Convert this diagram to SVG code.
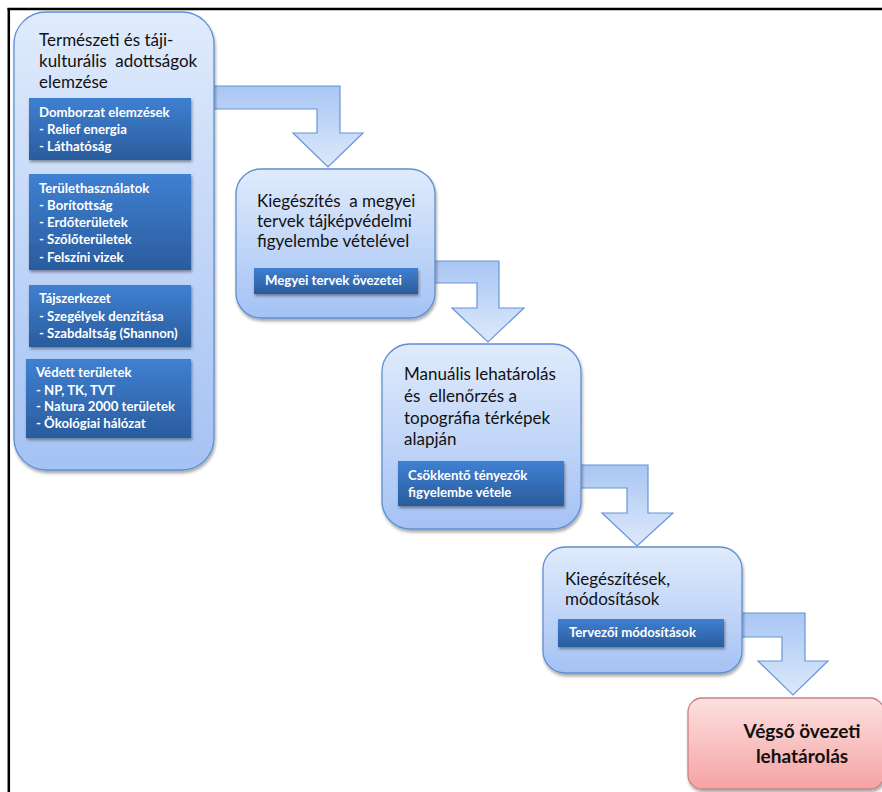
<svg xmlns="http://www.w3.org/2000/svg" width="882" height="792" viewBox="0 0 882 792">
<defs>
<linearGradient id="gBox" x1="0" y1="0" x2="0" y2="1">
<stop offset="0" stop-color="#e0ebfc"/><stop offset="1" stop-color="#a4c2f4"/>
</linearGradient>
<linearGradient id="gArrow" x1="0" y1="0" x2="0" y2="1">
<stop offset="0" stop-color="#a9c6f3"/><stop offset="1" stop-color="#dde9fb"/>
</linearGradient>
<linearGradient id="gDark" x1="0" y1="0" x2="0" y2="1">
<stop offset="0" stop-color="#3f80d2"/><stop offset="1" stop-color="#2a5c9d"/>
</linearGradient>
<linearGradient id="gRed" x1="0" y1="0" x2="0" y2="1">
<stop offset="0" stop-color="#fde0e0"/><stop offset="1" stop-color="#f5a3a3"/>
</linearGradient>
<filter id="sh" x="-10%" y="-10%" width="125%" height="130%">
<feDropShadow dx="1" dy="2.5" stdDeviation="1.8" flood-color="#000" flood-opacity="0.35"/>
</filter>
<filter id="shs" x="-10%" y="-10%" width="125%" height="140%">
<feDropShadow dx="1" dy="2" stdDeviation="1.5" flood-color="#000" flood-opacity="0.4"/>
</filter>
</defs>
<style>
text{white-space:pre}
.box{fill:url(#gBox);stroke:#5f8fd3;stroke-width:1.3}
.arr{fill:url(#gArrow);stroke:#6795d6;stroke-width:1.2}
.dark{fill:url(#gDark)}
.t{font-family:Lato,"Liberation Sans",sans-serif;font-size:17px;fill:#111}
.w{font-family:Lato,"Liberation Sans",sans-serif;font-size:13.2px;font-weight:bold;fill:#fff}
.r{font-family:Lato,"Liberation Sans",sans-serif;font-size:19px;font-weight:bold;fill:#111}
</style>
<rect width="882" height="792" fill="#fff"/>
<g id="frame" stroke="#000" fill="none">
<line x1="7.5" y1="9" x2="882" y2="9" stroke-width="2.5"/>
<line x1="8.8" y1="8" x2="8.8" y2="792" stroke-width="2.5"/>
</g>
<g id="connectors">
<path class="arr" d="M205 86 H340 V133 H363 L328 167 L293 133 H317 V109 H205 Z"/>
<path class="arr" d="M425 261 H499 V308 H524 L488 342 L452 308 H477 V283 H425 Z"/>
<path class="arr" d="M570 465 H648 V513 H673 L637 546 L602 513 H627 V488 H570 Z"/>
<path class="arr" d="M730 613 H805 V661 H828 L793 695 L758 661 H782 V637 H730 Z"/>
</g>
<g id="n1">
<rect class="box" x="14" y="12" width="200" height="458" rx="32" filter="url(#sh)"/>
<text class="t" x="39" y="46">Természeti és táji-</text>
<text class="t" x="39" y="67">kulturális  adottságok</text>
<text class="t" x="39" y="88">elemzése</text>
<rect class="dark" x="29" y="98" width="162" height="62" filter="url(#shs)"/>
<text class="w" x="39" y="117">Domborzat elemzések</text>
<text class="w" x="39" y="134">- Relief energia</text>
<text class="w" x="39" y="151">- Láthatóság</text>
<rect class="dark" x="29" y="174" width="162" height="96" filter="url(#shs)"/>
<text class="w" x="39" y="193">Területhasználatok</text>
<text class="w" x="39" y="210">- Borítottság</text>
<text class="w" x="39" y="227">- Erdőterületek</text>
<text class="w" x="39" y="244">- Szőlőterületek</text>
<text class="w" x="39" y="262">- Felszíni vizek</text>
<rect class="dark" x="29" y="285" width="162" height="62" filter="url(#shs)"/>
<text class="w" x="39" y="303">Tájszerkezet</text>
<text class="w" x="39" y="321">- Szegélyek denzitása</text>
<text class="w" x="39" y="338">- Szabdaltság (Shannon)</text>
<rect class="dark" x="26" y="359" width="165" height="79" filter="url(#shs)"/>
<text class="w" x="36" y="377">Védett területek</text>
<text class="w" x="36" y="395">- NP, TK, TVT</text>
<text class="w" x="36" y="411">- Natura 2000 területek</text>
<text class="w" x="36" y="428">- Ökológiai hálózat</text>
</g>
<g id="n2">
<rect class="box" x="236" y="169" width="199" height="149" rx="25" filter="url(#sh)"/>
<text class="t" x="257" y="207">Kiegészítés  a megyei</text>
<text class="t" x="257" y="227">tervek tájképvédelmi</text>
<text class="t" x="257" y="247">figyelembe vételével</text>
<rect class="dark" x="254" y="268" width="164" height="26" filter="url(#shs)"/>
<text class="w" x="265" y="285">Megyei tervek övezetei</text>
</g>
<g id="n3">
<rect class="box" x="382" y="344" width="199" height="185" rx="28" filter="url(#sh)"/>
<text class="t" x="404" y="380">Manuális lehatárolás</text>
<text class="t" x="404" y="402">és  ellenőrzés a</text>
<text class="t" x="404" y="424">topográfia térképek</text>
<text class="t" x="404" y="445">alapján</text>
<rect class="dark" x="398" y="461" width="166" height="45" filter="url(#shs)"/>
<text class="w" x="408" y="480">Csökkentő tényezők</text>
<text class="w" x="408" y="497">figyelembe vétele</text>
</g>
<g id="n4">
<rect class="box" x="543" y="547" width="199" height="126" rx="22" filter="url(#sh)"/>
<text class="t" x="565" y="585">Kiegészítések,</text>
<text class="t" x="565" y="605">módosítások</text>
<rect class="dark" x="558" y="619" width="166" height="28" filter="url(#shs)"/>
<text class="w" x="569" y="637">Tervezői módosítások</text>
</g>
<g id="n5">
<rect x="688" y="698" width="196" height="91" rx="14" fill="url(#gRed)" stroke="#c98282" stroke-width="1.3" filter="url(#sh)"/>
<text class="r" x="802" y="738" text-anchor="middle">Végső övezeti</text>
<text class="r" x="802" y="763" text-anchor="middle">lehatárolás</text>
</g>
</svg>
